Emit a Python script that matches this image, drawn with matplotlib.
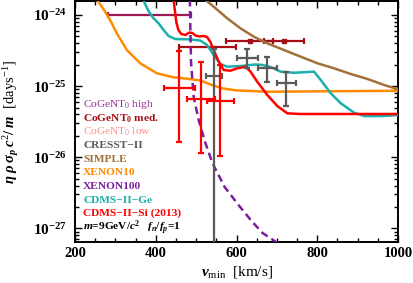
import numpy as np
import matplotlib
matplotlib.use("Agg")
import matplotlib.pyplot as plt
from matplotlib.ticker import FixedLocator, FuncFormatter, LogLocator, MultipleLocator

plt.rcParams['font.family'] = ['Liberation Serif', 'DejaVu Serif']
plt.rcParams['font.weight'] = 'bold'
plt.rcParams['mathtext.fontset'] = 'custom'
plt.rcParams['mathtext.rm'] = 'Liberation Serif:bold'
plt.rcParams['mathtext.it'] = 'Liberation Serif:italic:bold'
plt.rcParams['mathtext.bf'] = 'Liberation Serif:bold'

# ---------------- data (log10 of eta*rho*sigma*c^2/m) ----------------
xenon10_v = [240, 254.7, 272.1, 287.0, 303.6, 328.4, 361.5, 403.0, 444.2, 477.5, 510.6,
             535.4, 564.5, 597.5, 676.3, 1005]
xenon10_logy = [-23.60, -23.789, -23.930, -24.070, -24.257, -24.492, -24.679, -24.820,
                -24.876, -24.896, -24.921, -24.977, -25.031, -25.059, -25.079, -25.065]

simple_v = [510, 523.0, 543.6, 576.9, 609.9, 643.0, 676.3, 717.5, 759.0, 800.5, 841.7,
            883.2, 924.7, 966.0, 1002.5]
simple_logy = [-23.62, -23.789, -23.883, -24.046, -24.187, -24.305, -24.398, -24.492,
               -24.586, -24.679, -24.750, -24.830, -24.900, -24.985, -25.048]

ge_v = [362, 368.9, 382.1, 394.5, 407.0, 419.4, 431.8, 448.5, 480.7, 510.6, 527.2, 543.6,
        560.3, 576.9, 609.9, 647.2, 664.6, 684.5, 709.3, 742.4, 792.1, 808.7, 833.5,
        858.4, 891.4, 916.3, 957.8, 1005.0]
ge_logy = [-23.65, -23.789, -23.944, -24.046, -24.117, -24.211, -24.295, -24.338, -24.342,
           -24.359, -24.422, -24.563, -24.689, -24.727, -24.717, -24.696, -24.703, -24.731,
           -24.797, -24.812, -24.797, -24.914, -25.101, -25.242, -25.374, -25.421, -25.421,
           -25.406]

si_v = [443, 444.2, 447.2, 450.9, 455.9, 463.4, 473.3, 483.2, 490.7, 498.1, 508.1, 518.0,
        527.2, 535.4, 543.6, 556.0, 568.5, 585.1, 601.7, 622.4, 634.8, 651.4, 676.3,
        701.1, 726.0, 759.0, 1005.0]
si_logy = [-23.65, -23.789, -23.930, -24.098, -24.211, -24.267, -24.281, -24.246, -24.253,
           -24.288, -24.302, -24.295, -24.309, -24.380, -24.492, -24.657, -24.774, -24.783,
           -24.750, -24.727, -24.797, -24.938, -25.125, -25.280, -25.383, -25.392, -25.392]

xe100_v = [484.3, 484.5, 485.7, 487.5, 493.9, 506.3, 523.0, 540.4, 570.2, 605.0, 637.3,
           664.6, 696.9, 721.7]
xe100_logy = [-23.6, -23.789, -24.211, -24.675, -25.153, -25.477, -25.800, -26.082, -26.415,
              -26.672, -26.897, -27.066, -27.188, -27.333]

# CoGeNT high bin
cog_high_v, cog_high_dv, cog_high_logy = [385.4], [102.8], [-24.0]
# CoGeNT medium bins
cog_med_v = [528.0, 632.3, 717.5]
cog_med_dv = [69.6, 57.1, 49.7]
cog_med_logy = [-24.446, -24.361, -24.361]

# CRESST-II points (center, x half width, log y, log y upper, log y lower)
cresst_v = [545.3, 626.6, 676.3, 723.5]
cresst_dv = [19.9, 25.6, 24.1, 23.6]
cresst_logy = [-24.858, -24.609, -24.741, -24.961]
cresst_logy_hi = [-24.471, -24.482, -24.595, -24.797]
cresst_logy_lo = [-30.0, -24.750, -24.938, -25.280]

# CDMS-II-Si (2013) points
cdms_v = [457.1, 512.3, 560.3]
cdms_dv_lo = [37.7, 34.8, 33.0]
cdms_dv_hi = [39.3, 34.8, 33.0]
cdms_logy = [-25.031, -25.181, -25.210]
cdms_logy_hi = [-24.506, -24.665, -24.703]
cdms_logy_lo = [-25.790, -25.945, -25.980]

legend_labels = ['CoGeNT$_{\\mathdefault{0}}$ high', 'CoGeNT$_{\\mathdefault{0}}$ med.',
                 'CoGeNT$_{\\mathdefault{0}}$ low', 'CRESST\u2212II', 'SIMPLE', 'XENON10',
                 'XENON100', 'CDMS\u2212II\u2212Ge', 'CDMS\u2212II\u2212Si (2013)']
legend_colors = ['#9A2E96', '#A50F15', '#FF8F8F', '#5A5A5A', '#A3703C', '#FF8C00',
                 '#7B1E9E', '#1BB0AB', '#FF0000']
legend_weights = ['normal', 'bold', 'normal', 'bold', 'bold', 'bold', 'bold', 'bold', 'bold']

C_HIGH = '#9E1A55'
C_MED = '#A50F15'
C_CRESST = '#5A5A5A'
C_SIMPLE = '#A3703C'
C_X10 = '#FF8C00'
C_X100 = '#7B1E9E'
C_GE = '#1BB0AB'
C_SI = '#FF0000'

# ---------------- figure ----------------
fig = plt.figure(figsize=(4.13, 2.83), dpi=100)
ax = fig.add_axes([75 / 413, 1 - 241.7 / 283, 323 / 413, 240.7 / 283])

p = lambda a: 10.0 ** np.asarray(a)

# CoGeNT bins
ax.errorbar(cog_high_v, p(cog_high_logy), xerr=cog_high_dv, fmt='none', ecolor=C_HIGH,
            elinewidth=1.6, capsize=2.5, capthick=1.6, zorder=2)
ax.errorbar(cog_med_v, p(cog_med_logy), xerr=cog_med_dv, fmt='none', ecolor=C_MED,
            elinewidth=1.6, capsize=2.5, capthick=1.6, zorder=2)
ax.plot(cog_med_v[1:], p(cog_med_logy[1:]), 's', color=C_MED, ms=3.2, zorder=2)

lw = 1.8
ax.plot(simple_v, p(simple_logy), color=C_SIMPLE, lw=lw, zorder=3)
ax.plot(xenon10_v, p(xenon10_logy), color=C_X10, lw=lw, zorder=3)
ax.plot(ge_v, p(ge_logy), color=C_GE, lw=lw, zorder=3)
ax.plot(si_v, p(si_logy), color=C_SI, lw=lw, zorder=3)
ax.plot(xe100_v, p(xe100_logy), color=C_X100, lw=lw, ls=(0, (3.0, 1.8)), zorder=3)

# CRESST points
cy = p(cresst_logy)
ax.errorbar(cresst_v, cy, xerr=cresst_dv,
            yerr=[cy - p(cresst_logy_lo), p(cresst_logy_hi) - cy],
            fmt='none', ecolor=C_CRESST, elinewidth=1.6, capsize=2.5, capthick=1.6, zorder=4)

# CDMS-II-Si points
sy = p(cdms_logy)
ax.errorbar(cdms_v, sy, xerr=[cdms_dv_lo, cdms_dv_hi],
            yerr=[sy - p(cdms_logy_lo), p(cdms_logy_hi) - sy],
            fmt='none', ecolor=C_SI, elinewidth=1.6, capsize=2.5, capthick=1.6, zorder=4)

ax.set_xlim(200, 1000)
ax.set_yscale('log')
ax.set_ylim(10 ** -27.188, 10 ** -23.803)

ax.xaxis.set_major_locator(MultipleLocator(200))
ax.xaxis.set_minor_locator(MultipleLocator(50))
ax.yaxis.set_major_locator(FixedLocator([1e-27, 1e-26, 1e-25, 1e-24]))
ax.yaxis.set_minor_locator(LogLocator(base=10, subs=np.arange(2, 10)))
ax.yaxis.set_major_formatter(FuncFormatter(
    lambda v, pos: r'$\mathdefault{10^{%d}}$' % int(round(np.log10(v)))))
ax.tick_params(which='both', direction='in', top=True, right=True, width=1.0)
ax.tick_params(which='major', length=5)
ax.tick_params(which='minor', length=3)
ax.tick_params(axis='x', labelsize=10.5, pad=4)
ax.tick_params(axis='y', labelsize=11, pad=6)
for s in ax.spines.values():
    s.set_linewidth(1.4)

ax.set_ylabel(r'$\eta\;\rho\;\sigma_p\,c^{\mathdefault{2}}/\;m$  [days$^{\mathdefault{-1}}$]',
              fontsize=10.5)
ax.yaxis.set_label_coords(-0.168, 0.5)
ax.set_xlabel(r'$v_{\mathdefault{min}}$  [km/s]', fontsize=11)
ax.xaxis.set_label_coords(0.5, -0.092)

y0 = (241.7 - 104.7) / 240.7
dy = 13.62 / 240.7
for i, (lab, col, wt) in enumerate(zip(legend_labels, legend_colors, legend_weights)):
    ax.text(0.025, y0 - i * dy, lab, color=col, fontweight=wt, fontsize=8.2,
            transform=ax.transAxes, va='center', ha='left')
ax.text(0.025, y0 - 9 * dy, r'$m$=9GeV/$c^{\mathdefault{2}}$   $f_n/f_p$=1', color='black',
        fontweight='bold', fontsize=8.2, transform=ax.transAxes, va='center', ha='left')

fig.savefig('out.png', dpi=100)
